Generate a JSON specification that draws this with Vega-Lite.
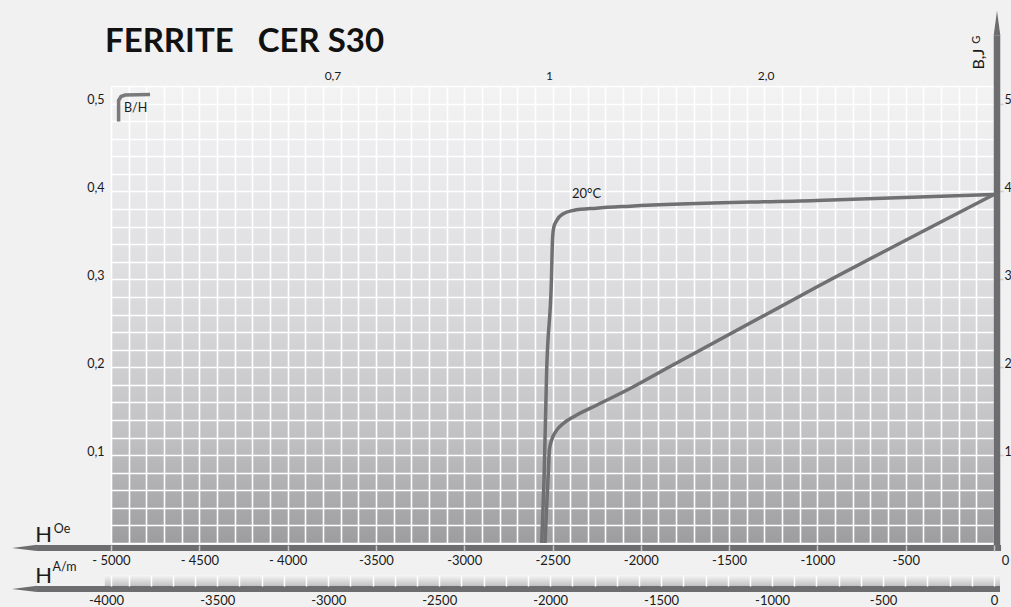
{
  "$schema": "https://vega.github.io/schema/vega-lite/v6.json",
  "width": 883,
  "height": 457,
  "autosize": {"type": "none"},
  "padding": {"left": 111, "top": 86, "right": 17, "bottom": 64},
  "background": "#f1f1f1",
  "view": {
    "stroke": null,
    "fill": {
      "gradient": "linear", "x1": 0, "y1": 0, "x2": 0, "y2": 1,
      "stops": [
        {"offset": 0, "color": "#f3f3f4"},
        {"offset": 0.25, "color": "#e7e7e9"},
        {"offset": 0.5, "color": "#d8d8da"},
        {"offset": 0.75, "color": "#c3c3c6"},
        {"offset": 1, "color": "#9d9da0"}
      ]
    }
  },
  "title": {
    "text": "FERRITE\u00a0\u00a0 CER S30",
    "anchor": "start",
    "frame": "group",
    "font": "Lato",
    "fontSize": 33,
    "fontWeight": "bold",
    "color": "#111111",
    "dx": -6,
    "dy": 57,
    "offset": 9
  },
  "datasets": {
    "curves": [
      {"curve": "J", "o": 1, "H": -2561, "B": 0},
      {"curve": "J", "o": 2, "H": -2548, "B": 0.0716},
      {"curve": "J", "o": 3, "H": -2533, "B": 0.1966},
      {"curve": "J", "o": 4, "H": -2506, "B": 0.30},
      {"curve": "J", "o": 5, "H": -2500, "B": 0.345},
      {"curve": "J", "o": 6, "H": -2493, "B": 0.359},
      {"curve": "J", "o": 7, "H": -2476, "B": 0.367},
      {"curve": "J", "o": 8, "H": -2439, "B": 0.3747},
      {"curve": "J", "o": 9, "H": -2383, "B": 0.3784},
      {"curve": "J", "o": 10, "H": -2250, "B": 0.381},
      {"curve": "J", "o": 11, "H": -2061, "B": 0.3833},
      {"curve": "J", "o": 12, "H": -1004, "B": 0.3898},
      {"curve": "J", "o": 13, "H": 0, "B": 0.3966},
      {"curve": "B", "o": 1, "H": -2542, "B": 0},
      {"curve": "B", "o": 2, "H": -2534, "B": 0.0375},
      {"curve": "B", "o": 3, "H": -2523, "B": 0.083},
      {"curve": "B", "o": 4, "H": -2518, "B": 0.1057},
      {"curve": "B", "o": 5, "H": -2505, "B": 0.117},
      {"curve": "B", "o": 6, "H": -2476, "B": 0.1284},
      {"curve": "B", "o": 7, "H": -2439, "B": 0.136},
      {"curve": "B", "o": 8, "H": -2382, "B": 0.1435},
      {"curve": "B", "o": 9, "H": -2250, "B": 0.1568},
      {"curve": "B", "o": 10, "H": -2061, "B": 0.1758},
      {"curve": "B", "o": 11, "H": -1873, "B": 0.1966},
      {"curve": "B", "o": 12, "H": -1004, "B": 0.2913},
      {"curve": "B", "o": 13, "H": 0, "B": 0.3966}
    ],
    "band": [{"H": -5035, "H2": 34, "B": -0.0364, "B2": -0.0489}],
    "hbars": [
      {"bar": "Oe", "H": -5419, "H2": 40, "B": -0.00568},
      {"bar": "A/m", "H": -5419, "H2": 34, "B": -0.0523}
    ],
    "vbar": [{"H": 17, "B": -0.0091, "B2": 0.5773}],
    "lheads": [
      {"bar": "Oe", "H": -5490, "B": -0.00568},
      {"bar": "A/m", "H": -5490, "B": -0.0523}
    ],
    "uhead": [{"H": 17, "B": 0.5915}],
    "bracket": [
      {"o": 1, "H": -4957, "B": 0.4795},
      {"o": 2, "H": -4957, "B": 0.5034},
      {"o": 3, "H": -4943, "B": 0.508},
      {"o": 4, "H": -4920, "B": 0.5097},
      {"o": 5, "H": -4779, "B": 0.5102}
    ],
    "notes13": [{"H": -2307, "B": 0.3966, "t": "20°C"}],
    "notes12": [
      {"H": -4861, "B": 0.4949, "t": "B/H"},
      {"H": -5277, "B": 0.016, "t": "Oe"},
      {"H": -5263, "B": -0.0273, "t": "A/m"}
    ],
    "notes22": [
      {"H": -5382, "B": 0.009, "t": "H"},
      {"H": -5382, "B": -0.0375, "t": "H"}
    ],
    "rot16": [{"H": -85, "B": 0.5506, "t": "B,J"}],
    "rot11": [{"H": -95, "B": 0.5727, "t": "G"}]
  },
  "layer": [
    {
      "data": {"name": "band"},
      "mark": {"type": "rect", "color": {"gradient": "linear", "x1": 0, "y1": 0, "x2": 0, "y2": 1, "stops": [{"offset": 0, "color": "#f6f6f6"}, {"offset": 1, "color": "#c2c2c4"}]}},
      "encoding": {
        "x": {"field": "H", "type": "quantitative", "scale": {"domain": [-5000, 0], "nice": false, "zero": false},
          "axis": {"orient": "top", "values": [-3746, -2520, -1293], "labelExpr": "datum.value < -3000 ? '0,7' : (datum.value < -2000 ? '1' : '2,0')", "labelPadding": 4, "labelFontSize": 12, "title": null}},
        "x2": {"field": "H2"},
        "y": {"field": "B", "type": "quantitative", "scale": {"domain": [0, 0.52], "nice": false, "zero": false}, "axis": null},
        "y2": {"field": "B2"}
      }
    },
    {
      "data": {"name": "curves"},
      "transform": [{"filter": "datum.curve == 'J'"}],
      "mark": {"type": "line", "color": "#707073", "strokeWidth": 3.5, "interpolate": "monotone"},
      "encoding": {
        "x": {"field": "H", "type": "quantitative",
          "axis": {"orient": "bottom", "offset": 2, "values": [-5000, -4500, -4000, -3500, -3000, -2500, -2000, -1500, -1000, -500, 0],
            "labelExpr": "datum.value <= -4000 ? '- ' + abs(datum.value) : '' + datum.value",
            "ticks": true, "tickSize": 6, "tickColor": "#c6c6c8", "tickWidth": 1.5, "labelPadding": 3, "labelFontSize": 13, "zindex": 1,
            "labelOffset": {"condition": {"test": "datum.value == 0", "value": 11}, "value": 0}, "title": null}},
        "y": {"field": "B", "type": "quantitative",
          "axis": {"orient": "left", "values": [0.1, 0.2, 0.3, 0.4, 0.5], "labelExpr": "replace(format(datum.value, '.1f'), '.', ',')",
            "labelPadding": 7, "labelBaseline": "alphabetic", "labelFontSize": 12.5, "title": null}},
        "order": {"field": "o"}
      }
    },
    {
      "data": {"name": "curves"},
      "transform": [{"filter": "datum.curve == 'B'"}],
      "mark": {"type": "line", "color": "#707073", "strokeWidth": 3.5, "interpolate": "monotone"},
      "encoding": {
        "x": {"field": "H", "type": "quantitative",
          "axis": {"orient": "bottom", "offset": 32,
            "values": [0, -125.66, -251.33, -376.99, -502.65, -628.32, -753.98, -879.65, -1005.31, -1130.97, -1256.64, -1382.3, -1507.96, -1633.63, -1759.29, -1884.96, -2010.62, -2136.28, -2261.95, -2387.61, -2513.27, -2638.94, -2764.6, -2890.27, -3015.93, -3141.59, -3267.26, -3392.92, -3518.58, -3644.25, -3769.91, -3895.57, -4021.24, -4146.9, -4272.57, -4398.23, -4523.89, -4649.56, -4775.22, -4900.88, -5000],
            "labelExpr": "datum.value == -5000 ? '-4000' : (round(datum.value * 0.795775) % 500 == 0 ? '' + round(datum.value * 0.795775) : '')",
            "labelOffset": {"condition": {"test": "datum.value == -5000", "value": -5}, "value": 0},
            "ticks": true, "tickSize": 11, "tickColor": "#ffffff", "tickWidth": 1.5, "labelPadding": 8, "labelFontSize": 13, "zindex": 1, "title": null}},
        "y": {"field": "B", "type": "quantitative",
          "axis": {"orient": "right", "values": [0.1, 0.2, 0.3, 0.4, 0.5], "labelExpr": "'' + round(datum.value * 10)",
            "ticks": true, "tickSize": 9, "tickColor": "#cfcfd1", "tickWidth": 1.5, "labelPadding": 1, "labelBaseline": "alphabetic", "labelFontSize": 12.5, "title": null}},
        "order": {"field": "o"}
      }
    },
    {
      "data": {"name": "hbars"},
      "mark": {"type": "rule", "color": "#6d6d70", "strokeWidth": 6},
      "encoding": {
        "x": {"field": "H", "type": "quantitative",
          "axis": {"orient": "bottom", "values": [-5000, -4900, -4800, -4700, -4600, -4500, -4400, -4300, -4200, -4100, -4000, -3900, -3800, -3700, -3600, -3500, -3400, -3300, -3200, -3100, -3000, -2900, -2800, -2700, -2600, -2500, -2400, -2300, -2200, -2100, -2000, -1900, -1800, -1700, -1600, -1500, -1400, -1300, -1200, -1100, -1000, -900, -800, -700, -600, -500, -400, -300, -200, -100, 0],
            "labels": false, "grid": true, "gridColor": "#ffffff", "gridWidth": 1.6, "gridOpacity": 1, "title": null}},
        "x2": {"field": "H2"},
        "y": {"field": "B", "type": "quantitative",
          "axis": {"orient": "left", "values": [0, 0.02, 0.04, 0.06, 0.08, 0.1, 0.12, 0.14, 0.16, 0.18, 0.2, 0.22, 0.24, 0.26, 0.28, 0.3, 0.32, 0.34, 0.36, 0.38, 0.4, 0.42, 0.44, 0.46, 0.48, 0.5, 0.52],
            "labels": false, "grid": true, "gridColor": "#ffffff", "gridWidth": 1.6, "gridOpacity": 1, "title": null}}
      }
    },
    {
      "data": {"name": "vbar"},
      "mark": {"type": "rule", "color": "#6d6d70", "strokeWidth": 6.5},
      "encoding": {
        "x": {"field": "H", "type": "quantitative", "axis": null},
        "y": {"field": "B", "type": "quantitative", "axis": null},
        "y2": {"field": "B2"}
      }
    },
    {
      "data": {"name": "lheads"},
      "mark": {"type": "point", "shape": "M-1,0L1,-0.25L1,0.25Z", "size": 625, "filled": true, "color": "#6d6d70", "opacity": 1, "strokeWidth": 0},
      "encoding": {
        "x": {"field": "H", "type": "quantitative", "axis": null},
        "y": {"field": "B", "type": "quantitative", "axis": null}
      }
    },
    {
      "data": {"name": "uhead"},
      "mark": {"type": "point", "shape": "M0,-1L0.27,1L-0.27,1Z", "size": 625, "filled": true, "color": "#6d6d70", "opacity": 1, "strokeWidth": 0},
      "encoding": {
        "x": {"field": "H", "type": "quantitative", "axis": null},
        "y": {"field": "B", "type": "quantitative", "axis": null}
      }
    },
    {
      "data": {"name": "bracket"},
      "mark": {"type": "line", "color": "#7a7a7c", "strokeWidth": 3.5},
      "encoding": {
        "x": {"field": "H", "type": "quantitative", "axis": null},
        "y": {"field": "B", "type": "quantitative", "axis": null},
        "order": {"field": "o"}
      }
    },
    {
      "data": {"name": "notes13"},
      "mark": {"type": "text", "font": "Lato", "fontSize": 13, "color": "#1a1a1a", "align": "center", "baseline": "middle"},
      "encoding": {
        "x": {"field": "H", "type": "quantitative", "axis": null},
        "y": {"field": "B", "type": "quantitative", "axis": null},
        "text": {"field": "t"}
      }
    },
    {
      "data": {"name": "notes12"},
      "mark": {"type": "text", "font": "Lato", "fontSize": 12.5, "color": "#1a1a1a", "align": "center", "baseline": "middle"},
      "encoding": {
        "x": {"field": "H", "type": "quantitative", "axis": null},
        "y": {"field": "B", "type": "quantitative", "axis": null},
        "text": {"field": "t"}
      }
    },
    {
      "data": {"name": "notes22"},
      "mark": {"type": "text", "font": "Lato", "fontSize": 22, "color": "#1a1a1a", "align": "center", "baseline": "middle"},
      "encoding": {
        "x": {"field": "H", "type": "quantitative", "axis": null},
        "y": {"field": "B", "type": "quantitative", "axis": null},
        "text": {"field": "t"}
      }
    },
    {
      "data": {"name": "rot16"},
      "mark": {"type": "text", "font": "Lato", "fontSize": 16, "color": "#1a1a1a", "align": "center", "baseline": "middle", "angle": 270},
      "encoding": {
        "x": {"field": "H", "type": "quantitative", "axis": null},
        "y": {"field": "B", "type": "quantitative", "axis": null},
        "text": {"field": "t"}
      }
    },
    {
      "data": {"name": "rot11"},
      "mark": {"type": "text", "font": "Lato", "fontSize": 11, "color": "#1a1a1a", "align": "center", "baseline": "middle", "angle": 270},
      "encoding": {
        "x": {"field": "H", "type": "quantitative", "axis": null},
        "y": {"field": "B", "type": "quantitative", "axis": null},
        "text": {"field": "t"}
      }
    }
  ],
  "resolve": {"axis": {"x": "independent", "y": "independent"}},
  "config": {
    "font": "Lato",
    "axis": {
      "labelFont": "Lato",
      "labelColor": "#1a1a1a",
      "domain": false,
      "ticks": false,
      "tickSize": 0,
      "grid": false,
      "labelFlush": false,
      "labelOverlap": false
    }
  }
}
